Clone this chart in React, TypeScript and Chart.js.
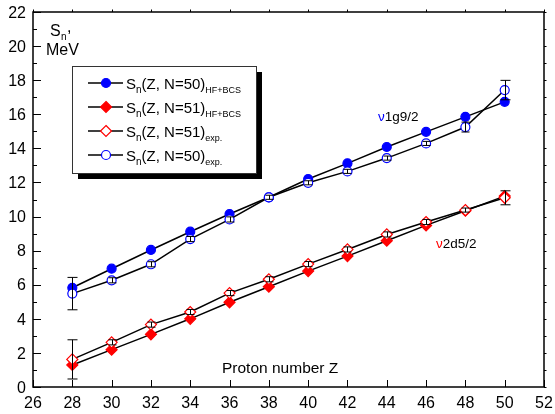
import React, { useEffect, useRef } from 'react';
import { Chart, registerables } from 'chart.js';

Chart.register(...registerables);

const protonZ = [28, 30, 32, 34, 36, 38, 40, 42, 44, 46, 48, 50];
const snN50HF = [5.82, 6.94, 8.04, 9.11, 10.15, 11.13, 12.2, 13.12, 14.08, 14.97, 15.85, 16.73];
const snN51HF = [1.29, 2.19, 3.09, 4.0, 4.97, 5.88, 6.8, 7.68, 8.58, 9.48, 10.34, 11.2];
const snN51exp = [1.62, 2.62, 3.66, 4.4, 5.51, 6.32, 7.21, 8.07, 8.95, 9.68, 10.38, 11.1];
const snN50exp = [5.48, 6.26, 7.2, 8.68, 9.83, 11.13, 11.98, 12.65, 13.43, 14.29, 15.25, 17.42];
const errN51exp = [1.15, 0.15, 0.15, 0.15, 0.15, 0.15, 0.15, 0.15, 0.15, 0.15, 0.12, 0.41];
const errN50exp = [0.95, 0.15, 0.15, 0.15, 0.15, 0.12, 0.12, 0.12, 0.12, 0.12, 0.29, 0.57];
const xTicks = [26, 28, 30, 32, 34, 36, 38, 40, 42, 44, 46, 48, 50, 52];
const yTicks = [0, 2, 4, 6, 8, 10, 12, 14, 16, 18, 20, 22];

const BLUE = '#0000ff';
const RED = '#ff0000';
const FONT = '"Liberation Sans", Arial, sans-serif';

type LegendItem = { main: string; sub: string; color: string; shape: 'circle' | 'diamond'; filled: boolean };
const legendItems: LegendItem[] = [
  { main: '(Z, N=50)', sub: 'HF+BCS', color: BLUE, shape: 'circle', filled: true },
  { main: '(Z, N=51)', sub: 'HF+BCS', color: RED, shape: 'diamond', filled: true },
  { main: '(Z, N=51)', sub: 'exp.', color: RED, shape: 'diamond', filled: false },
  { main: '(Z, N=50)', sub: 'exp.', color: BLUE, shape: 'circle', filled: false },
];

function drawMarker(ctx: CanvasRenderingContext2D, cx: number, cy: number, it: LegendItem) {
  ctx.save();
  ctx.beginPath();
  if (it.shape === 'circle') {
    ctx.arc(cx, cy, 4.5, 0, Math.PI * 2);
  } else {
    const r = 5.5;
    ctx.moveTo(cx, cy - r);
    ctx.lineTo(cx + r, cy);
    ctx.lineTo(cx, cy + r);
    ctx.lineTo(cx - r, cy);
    ctx.closePath();
  }
  ctx.fillStyle = it.filled ? it.color : '#ffffff';
  ctx.fill();
  ctx.lineWidth = 1.2;
  ctx.strokeStyle = it.color;
  ctx.stroke();
  ctx.restore();
}

const decorPlugin = {
  id: 'decor',
  afterDatasetsDraw(chart: any) {
    const { ctx, scales } = chart;
    const x = scales.x, y = scales.y;
    ctx.save();
    ctx.strokeStyle = '#000';
    ctx.lineWidth = 1;
    const bars = (vals: number[], errs: number[]) => {
      vals.forEach((v, i) => {
        const px = Math.round(x.getPixelForValue(protonZ[i])) + 0.5;
        const top = y.getPixelForValue(v + errs[i]);
        const bot = y.getPixelForValue(v - errs[i]);
        const cap = errs[i] > 0.3 ? 5 : 4;
        ctx.beginPath();
        ctx.moveTo(px, top);
        ctx.lineTo(px, bot);
        ctx.moveTo(px - cap, top);
        ctx.lineTo(px + cap, top);
        ctx.moveTo(px - cap, bot);
        ctx.lineTo(px + cap, bot);
        ctx.stroke();
      });
    };
    bars(snN50exp, errN50exp);
    bars(snN51exp, errN51exp);
    ctx.restore();
  },
  afterDraw(chart: any) {
    const { ctx, chartArea: a, scales } = chart;
    const x = scales.x, y = scales.y;
    ctx.save();
    ctx.strokeStyle = '#000';
    ctx.lineWidth = 1.5;
    ctx.strokeRect(a.left, a.top, a.right - a.left, a.bottom - a.top);
    ctx.lineWidth = 1;
    for (let v = 0; v <= 22; v++) {
      const py = Math.round(y.getPixelForValue(v)) + 0.5;
      const len = v % 2 === 0 ? 8 : 4;
      ctx.beginPath();
      ctx.moveTo(a.left, py);
      ctx.lineTo(a.left + len, py);
      ctx.moveTo(a.right, py);
      ctx.lineTo(a.right + 2.5, py);
      ctx.stroke();
    }
    xTicks.forEach((v) => {
      const px = Math.round(x.getPixelForValue(v)) + 0.5;
      ctx.beginPath();
      ctx.moveTo(px, a.bottom);
      ctx.lineTo(px, a.bottom - 7);
      ctx.moveTo(px, a.top);
      ctx.lineTo(px, a.top - 2.5);
      ctx.stroke();
    });

    // tick labels
    ctx.fillStyle = '#000';
    ctx.font = `16px ${FONT}`;
    ctx.textBaseline = 'alphabetic';
    ctx.textAlign = 'right';
    yTicks.forEach((v) => {
      ctx.fillText(String(v), a.left - 7, y.getPixelForValue(v) + 5.7);
    });
    ctx.textAlign = 'center';
    xTicks.forEach((v) => {
      ctx.fillText(String(v), x.getPixelForValue(v), 407.5);
    });

    ctx.textAlign = 'left';
    ctx.font = `16px ${FONT}`;
    ctx.fillText('S', 50, 36);
    ctx.font = `10px ${FONT}`;
    ctx.fillText('n', 61, 40);
    ctx.font = `16px ${FONT}`;
    ctx.fillText(',', 67, 32);
    ctx.fillText('MeV', 46, 55);

    ctx.font = `15.5px ${FONT}`;
    ctx.fillText('Proton number Z', 222, 373);

    ctx.font = `13.5px ${FONT}`;
    ctx.fillStyle = BLUE;
    ctx.fillText('ν', 378, 121);
    let w = ctx.measureText('ν').width;
    ctx.fillStyle = '#000';
    ctx.fillText('1g9/2', 378 + w, 121);
    ctx.fillStyle = RED;
    ctx.fillText('ν', 436, 248);
    w = ctx.measureText('ν').width;
    ctx.fillStyle = '#000';
    ctx.fillText('2d5/2', 436 + w, 248);

    const bx = 72, by = 66, bw = 184, bh = 107;
    ctx.fillStyle = '#000';
    ctx.fillRect(bx + 6, by + 6, bw, bh);
    ctx.fillStyle = '#fff';
    ctx.fillRect(bx, by, bw, bh);
    ctx.strokeStyle = '#333';
    ctx.lineWidth = 1;
    ctx.strokeRect(bx + 0.5, by + 0.5, bw, bh);

    const rows = [83, 107, 131, 155];
    legendItems.forEach((it, i) => {
      const cy = rows[i];
      ctx.strokeStyle = '#000';
      ctx.lineWidth = 1.5;
      ctx.beginPath();
      ctx.moveTo(88, cy);
      ctx.lineTo(123, cy);
      ctx.stroke();
      drawMarker(ctx, 106, cy, it);
      ctx.fillStyle = '#000';
      let tx = 126;
      const base = cy + 6;
      ctx.font = `15px ${FONT}`;
      ctx.fillText('S', tx, base);
      tx += ctx.measureText('S').width;
      ctx.font = `10px ${FONT}`;
      ctx.fillText('n', tx, base + 4);
      tx += ctx.measureText('n').width;
      ctx.font = `15px ${FONT}`;
      ctx.fillText(it.main, tx, base);
      tx += ctx.measureText(it.main).width;
      ctx.font = `9px ${FONT}`;
      ctx.fillText(it.sub, tx, base + 4);
    });
    ctx.restore();
  },
};

export default function App() {
  const ref = useRef<HTMLCanvasElement | null>(null);
  useEffect(() => {
    document.body.style.margin = '0';
    const canvas = ref.current;
    if (!canvas) return;
    const mk = (vals: number[], color: string, shape: string, filled: boolean) => ({
      data: protonZ.map((z, i) => ({ x: z, y: vals[i] })),
      borderColor: '#000',
      borderWidth: 1.5,
      pointStyle: shape,
      pointRadius: shape === 'circle' ? 4.5 : 5.5,
      pointBorderColor: color,
      pointBackgroundColor: filled ? color : '#ffffff',
      pointBorderWidth: 1.2,
      tension: 0,
      fill: false,
      showLine: true,
    });
    const chart = new Chart(canvas, {
      type: 'line',
      data: {
        datasets: [
          mk(snN50exp, BLUE, 'circle', false),
          mk(snN51exp, RED, 'rectRot', false),
          mk(snN50HF, BLUE, 'circle', true),
          mk(snN51HF, RED, 'rectRot', true),
        ] as any,
      },
      options: {
        animation: false,
        responsive: false,
        maintainAspectRatio: false,
        layout: { padding: { top: 12, right: 11, left: 0, bottom: 0 } },
        plugins: { legend: { display: false }, tooltip: { enabled: false } },
        scales: {
          x: {
            type: 'linear',
            min: 26,
            max: 52,
            afterBuildTicks: (s: any) => { s.ticks = xTicks.map((v) => ({ value: v })); },
            afterFit: (s: any) => { s.height = 27; },
            ticks: { display: false },
            grid: { display: false },
            border: { display: false },
          },
          y: {
            type: 'linear',
            min: 0,
            max: 22,
            afterBuildTicks: (s: any) => { s.ticks = yTicks.map((v) => ({ value: v })); },
            afterFit: (s: any) => { s.width = 33; },
            ticks: { display: false },
            grid: { display: false },
            border: { display: false },
          },
        },
      },
      plugins: [decorPlugin],
    } as any);
    return () => chart.destroy();
  }, []);
  return (
    <div style={{ width: 555, height: 414 }}>
      <canvas ref={ref} width={555} height={414} style={{ display: 'block' }} />
    </div>
  );
}
